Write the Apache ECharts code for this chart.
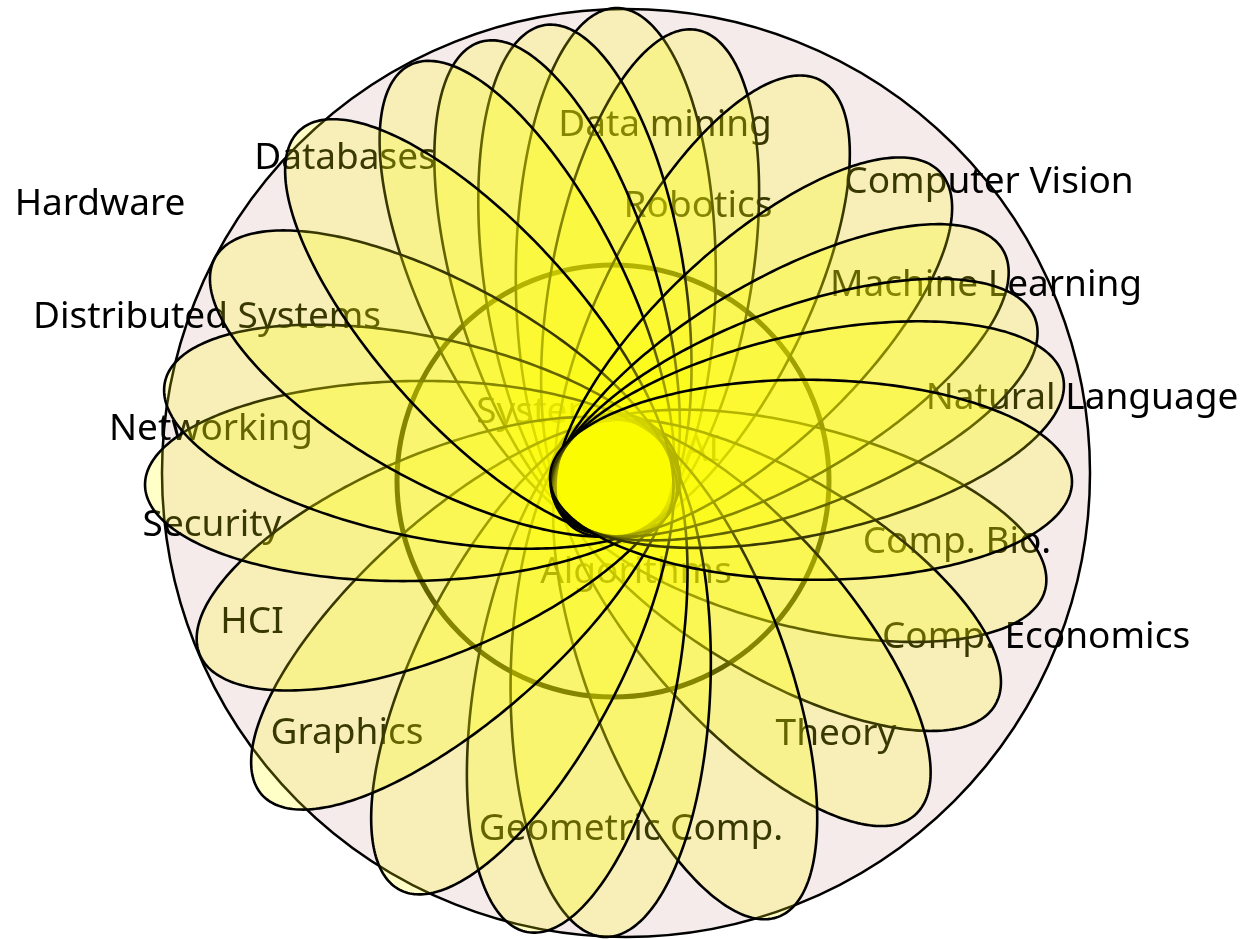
<!DOCTYPE html>
<html><head><meta charset="utf-8">
<script src="https://cdn.jsdelivr.net/npm/echarts@6/dist/echarts.min.js"></script>
<style>html,body{margin:0;padding:0;background:#fff}#c{width:1247px;height:939px}</style>
</head><body><div id="c"></div>
<script>
// Diagram coordinates: origin at the centre of the outer set, y up.
const universeCircle = [0, 0, 464];          // cx, cy, r  (Hardware)
const coreCircle = [-13, -8, 216];           // cx, cy, r

// Ellipses in drawing order: centre x, centre y, semi-major, semi-minor, rotation (deg)
const ellipseCx  = [-10.2, 24.1, 76.6, -41.1, -68.9, -99.1, 172.6, 151.2, 117.4, 59.2, -15.3, -48.8, -103.5, -163.3, -188.7, -213.5, -204.2, -182.5, -146.7, 127.8, 154.9, 168.6, 181.3, 185];
const ellipseCy  = [197.5, 187.1, 165.1, 189.3, 181.9, 172.4, -52.8, -101.9, -149.2, -193.9, -202, -200.1, -182.2, -141.7, -80.7, -8, 36.3, 89.4, 144.8, 125.7, 92.6, 63.4, 38.4, -6.8];
const ellipseA   = [267.5, 260.2, 256.3, 261.7, 260.7, 263, 254.7, 253.8, 258.1, 266.7, 262, 263.7, 264.8, 269.7, 258.1, 267.5, 262.6, 260.8, 267.2, 255.7, 257.5, 257.2, 262.1, 261];
const ellipseB   = [100, 100, 100, 100, 100, 100, 100, 100, 100, 100, 100, 100, 100, 100, 100, 100, 100, 100, 100, 100, 100, 100, 100, 100];
const ellipsePhi = [89.8, 79.6, 62.75, 98.8, 107.2, 116.4, -14.6, -30.9, -48.3, -69.6, -91.2, -101, -117.6, -138.1, -156.9, -179.1, 168, 151.2, 132.2, 43.3, 30.4, 20.85, 12.7, -0.5];

const setNames = ['Hardware', 'Databases', 'Distributed Systems', 'Networking', 'Security', 'HCI', 'Graphics', 'Geometric Comp.', 'Theory', 'Comp. Economics', 'Comp. Bio.', 'Natural Language', 'Machine Learning', 'Computer Vision', 'Robotics', 'Data mining', 'Systems', 'AI', 'Algorithms'];
const labelX = [-526, -281, -419, -415, -414, -374, -279, 5, 210, 410, 331, 456, 360, 363, 72, 39, -78, 76, 10];
const labelY = [269, 315, 156, 44, -52, -149, -260, -356, -261, -164, -69, 75, 188, 291, 267, 348, 61, 23, -99];

const chart = echarts.init(document.getElementById('c'), null, {renderer: 'canvas'});

function ellipsePts(api, cx, cy, a, b, phiDeg) {
  const p = phiDeg * Math.PI / 180, c = Math.cos(p), s = Math.sin(p);
  const pts = [];
  const N = 300;
  for (let i = 0; i < N; i++) {
    const t = i / N * 2 * Math.PI;
    const ex = a * Math.cos(t), ey = b * Math.sin(t);
    pts.push(api.coord([cx + ex * c - ey * s, cy + ex * s + ey * c]));
  }
  return pts;
}
function circleItem(api, stroke, fill, lw) {
  const c = api.coord([api.value(0), api.value(1)]);
  const r = api.size([api.value(2), 0])[0];
  return {type: 'circle', shape: {cx: c[0], cy: c[1], r: r}, style: {fill: fill, stroke: stroke, lineWidth: lw}};
}

chart.setOption({
  animation: false,
  grid: {left: 0, right: 0, top: 0, bottom: 0},
  xAxis: {type: 'value', min: -626, max: 621, show: false},
  yAxis: {type: 'value', min: -466, max: 473, show: false},
  series: [
    {
      type: 'custom', z: 1, silent: true,
      data: [universeCircle],
      renderItem: (params, api) => circleItem(api, '#000', '#f5ebeb', 2.5)
    },
    {
      type: 'custom', z: 2, silent: true,
      data: setNames.map((n, i) => [labelX[i], labelY[i]]),
      renderItem: (params, api) => {
        const p = api.coord([api.value(0), api.value(1)]);
        return {type: 'text', x: p[0], y: p[1], style: {text: setNames[params.dataIndex], font: '37px "Noto Sans"', fill: '#000', align: 'center', verticalAlign: 'middle'}};
      }
    },
    {
      type: 'custom', z: 3, silent: true,
      data: [coreCircle],
      renderItem: (params, api) => circleItem(api, '#000', 'none', 5)
    },
    {
      type: 'custom', z: 4, silent: true,
      data: ellipseCx.map((v, i) => [v, ellipseCy[i], ellipseA[i], ellipseB[i], ellipsePhi[i]]),
      renderItem: (params, api) => ({
        type: 'polygon',
        shape: {points: ellipsePts(api, api.value(0), api.value(1), api.value(2), api.value(3), api.value(4))},
        style: {fill: 'rgba(255,255,0,0.22)', stroke: '#000', lineWidth: 2.6}
      })
    }
  ]
});
</script>
</body></html>
